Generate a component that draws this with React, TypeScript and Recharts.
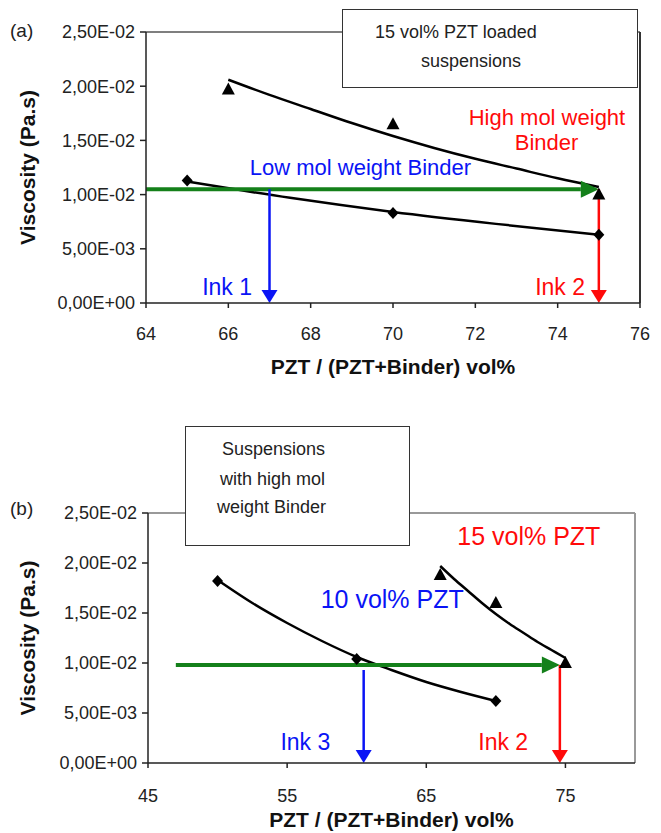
import { ComposedChart, Line, Scatter, XAxis, YAxis, ReferenceLine, ReferenceDot } from 'recharts';

// (a) 15 vol% PZT, binder molecular weight
const aTicksX = [64, 66, 68, 70, 72, 74, 76];
const aHighX = [66, 70, 75];
const aHighY = [0.0197, 0.0165, 0.01];
const aLowX = [65, 70, 75];
const aLowY = [0.0113, 0.0083, 0.0063];
const aHighFitX = [66, 67, 68, 69, 70, 71, 72, 73, 74, 75];
const aHighFitY = [0.0206, 0.0192, 0.0179, 0.0166, 0.0154, 0.0143, 0.0133, 0.0124, 0.0115, 0.0107];
const aLowFitX = [65, 67.5, 70, 72.5, 75];
const aLowFitY = [0.0112, 0.0097, 0.0084, 0.0073, 0.0063];

// (b) high mol weight binder, 10 / 15 vol% PZT
const bTicksX = [45, 55, 65, 75];
const b10X = [50, 60, 70];
const b10Y = [0.0182, 0.0104, 0.0062];
const b15X = [66, 70, 75];
const b15Y = [0.0188, 0.016, 0.01];
const b10FitX = [50, 52.5, 55, 57.5, 60, 62.5, 65, 67.5, 70];
const b10FitY = [0.0183, 0.016, 0.014, 0.0122, 0.0106, 0.0093, 0.0081, 0.0071, 0.0062];
const b15FitX = [66, 67, 68, 69, 70, 71, 72, 73, 74, 75];
const b15FitY = [0.0197, 0.0184, 0.0172, 0.016, 0.0149, 0.0139, 0.013, 0.0121, 0.0113, 0.0105];

const yTicks = [0, 0.005, 0.01, 0.015, 0.02, 0.025];

const pts = (xs: number[], ys: number[]) => xs.map((x, i) => ({ x, y: ys[i] }));

const FONT = '"Liberation Sans", Arial, sans-serif';
const GREEN = '#14801a';
const BLUE = '#0a14f5';
const RED = '#ff0a0a';

const fmtSci = (v: number) => {
  if (v === 0) return '0,00E+00';
  const [m, e] = v.toExponential(2).split('e');
  const n = parseInt(e, 10);
  return `${m.replace('.', ',')}E${n < 0 ? '-' : '+'}${String(Math.abs(n)).padStart(2, '0')}`;
};

const arrow = (color: string, w: number, headL: number, headW: number) => (p: any) => {
  const { x1, y1, x2, y2 } = p;
  const dx = x2 - x1;
  const dy = y2 - y1;
  const len = Math.hypot(dx, dy) || 1;
  const ux = dx / len;
  const uy = dy / len;
  const bx = x2 - ux * headL;
  const by = y2 - uy * headL;
  const px = -uy * headW / 2;
  const py = ux * headW / 2;
  return (
    <g>
      <line x1={x1} y1={y1} x2={bx} y2={by} stroke={color} strokeWidth={w} />
      <polygon points={`${x2},${y2} ${bx + px},${by + py} ${bx - px},${by - py}`} fill={color} />
    </g>
  );
};

const Tri = (p: any) => (
  <polygon points={`${p.cx},${p.cy - 7} ${p.cx + 6.5},${p.cy + 5} ${p.cx - 6.5},${p.cy + 5}`} fill="#000" />
);
const Dia = (p: any) => (
  <polygon points={`${p.cx},${p.cy - 6} ${p.cx + 5.5},${p.cy} ${p.cx},${p.cy + 6} ${p.cx - 5.5},${p.cy}`} fill="#000" />
);

const tickStyle = { fontSize: 18, fill: '#222', fontFamily: FONT };
const titleStyle = { fontSize: 21, fontWeight: 'bold', fill: '#111', fontFamily: FONT };

const txt = (value: string, color: string, size: number) => ({
  value, position: 'center' as const, fill: color, fontSize: size, fontFamily: FONT,
});

export default function App() {
  return (
    <div style={{ position: 'absolute', left: 0, top: 0, width: 661, height: 833, background: '#fff', fontFamily: FONT }}>
      {/* (a) */}
      <div style={{ position: 'absolute', left: 0, top: 0 }}>
        <ComposedChart width={661} height={410} margin={{ top: 32, right: 21, left: 0, bottom: 36 }}>
          <XAxis
            type="number" dataKey="x" domain={[64, 76]} ticks={aTicksX} allowDataOverflow
            tick={tickStyle} tickSize={5} tickMargin={19} height={71}
            axisLine={{ stroke: '#222', strokeWidth: 1.5 }} tickLine={{ stroke: '#222', strokeWidth: 1.5 }}
            label={{ value: 'PZT / (PZT+Binder) vol%', position: 'insideBottom', offset: 0, ...titleStyle }}
          />
          <YAxis
            type="number" domain={[0, 0.025]} ticks={yTicks} tickFormatter={fmtSci} width={146}
            tick={tickStyle} tickSize={6} tickMargin={5}
            axisLine={{ stroke: '#222', strokeWidth: 1.5 }} tickLine={{ stroke: '#222', strokeWidth: 1.5 }}
            label={{ value: 'Viscosity (Pa.s)', angle: -90, position: 'insideLeft', offset: 28, style: { textAnchor: 'middle' }, ...titleStyle }}
          />
          <ReferenceLine y={0.025} stroke="#555" strokeWidth={1.5} />
          <ReferenceLine x={76} stroke="#333" strokeWidth={2} />
          <Line data={pts(aHighFitX, aHighFitY)} dataKey="y" type="monotone" stroke="#000" strokeWidth={2.5} dot={false} isAnimationActive={false} />
          <Line data={pts(aLowFitX, aLowFitY)} dataKey="y" type="monotone" stroke="#000" strokeWidth={2.5} dot={false} isAnimationActive={false} />
          <Scatter data={pts(aHighX, aHighY)} dataKey="y" shape={Tri} isAnimationActive={false} />
          <Scatter data={pts(aLowX, aLowY)} dataKey="y" shape={Dia} isAnimationActive={false} />
          <ReferenceLine segment={[{ x: 64, y: 0.0105 }, { x: 75, y: 0.0105 }]} shape={arrow(GREEN, 4, 18, 17)} />
          <ReferenceLine segment={[{ x: 67, y: 0.0105 }, { x: 67, y: 0 }]} shape={arrow(BLUE, 2.5, 13, 16)} />
          <ReferenceLine segment={[{ x: 75, y: 0.0105 }, { x: 75, y: 0 }]} shape={arrow(RED, 2.5, 13, 16)} />
          <ReferenceDot x={69.21} y={0.01255} r={0} label={txt('Low mol weight Binder', BLUE, 22)} />
          <ReferenceDot x={73.74} y={0.01716} r={0} label={txt('High mol weight', RED, 22)} />
          <ReferenceDot x={73.73} y={0.01485} r={0} label={txt('Binder', RED, 22)} />
          <ReferenceDot x={65.97} y={0.00148} r={0} label={txt('Ink 1', BLUE, 23)} />
          <ReferenceDot x={74.06} y={0.00148} r={0} label={txt('Ink 2', RED, 23)} />
        </ComposedChart>
      </div>
      <div style={{ position: 'absolute', left: 10, top: 20, fontSize: 19, color: '#222' }}>(a)</div>
      <div style={{ position: 'absolute', left: 342, top: 9, width: 296, height: 79, boxSizing: 'border-box', border: '1.5px solid #333', background: '#fff', fontSize: 18, color: '#222' }}>
        <div style={{ position: 'absolute', left: 32, top: 12, whiteSpace: 'nowrap' }}>15 vol% PZT loaded</div>
        <div style={{ position: 'absolute', left: 78, top: 41, whiteSpace: 'nowrap' }}>suspensions</div>
      </div>

      {/* (b) */}
      <div style={{ position: 'absolute', left: 0, top: 420 }}>
        <ComposedChart width={661} height={413} margin={{ top: 93, right: 26, left: 0, bottom: 6 }}>
          <XAxis
            type="number" dataKey="x" domain={[45, 80]} ticks={bTicksX} allowDataOverflow
            tick={tickStyle} tickSize={5} tickMargin={21} height={64}
            axisLine={{ stroke: '#222', strokeWidth: 1.5 }} tickLine={{ stroke: '#222', strokeWidth: 1.5 }}
            label={{ value: 'PZT / (PZT+Binder) vol%', position: 'insideBottom', offset: 0, ...titleStyle }}
          />
          <YAxis
            type="number" domain={[0, 0.025]} ticks={yTicks} tickFormatter={fmtSci} width={148}
            tick={tickStyle} tickSize={6} tickMargin={5}
            axisLine={{ stroke: '#222', strokeWidth: 1.5 }} tickLine={{ stroke: '#222', strokeWidth: 1.5 }}
            label={{ value: 'Viscosity (Pa.s)', angle: -90, position: 'insideLeft', offset: 28, style: { textAnchor: 'middle' }, ...titleStyle }}
          />
          <ReferenceLine y={0.025} stroke="#777" strokeWidth={1.5} />
          <ReferenceLine x={80} stroke="#999" strokeWidth={2} />
          <Line data={pts(b10FitX, b10FitY)} dataKey="y" type="monotone" stroke="#000" strokeWidth={2.5} dot={false} isAnimationActive={false} />
          <Line data={pts(b15FitX, b15FitY)} dataKey="y" type="monotone" stroke="#000" strokeWidth={2.5} dot={false} isAnimationActive={false} />
          <Scatter data={pts(b15X, b15Y)} dataKey="y" shape={Tri} isAnimationActive={false} />
          <Scatter data={pts(b10X, b10Y)} dataKey="y" shape={Dia} isAnimationActive={false} />
          <ReferenceLine segment={[{ x: 47, y: 0.0098 }, { x: 74.6, y: 0.0098 }]} shape={arrow(GREEN, 4, 18, 17)} />
          <ReferenceLine segment={[{ x: 60.5, y: 0.0093 }, { x: 60.5, y: 0 }]} shape={arrow(BLUE, 2.5, 13, 16)} />
          <ReferenceLine segment={[{ x: 74.6, y: 0.0098 }, { x: 74.6, y: 0 }]} shape={arrow(RED, 2.5, 13, 16)} />
          <ReferenceDot x={72.37} y={0.0227} r={0} label={txt('15 vol% PZT', RED, 25)} />
          <ReferenceDot x={62.55} y={0.0164} r={0} label={txt('10 vol% PZT', BLUE, 25)} />
          <ReferenceDot x={56.31} y={0.0021} r={0} label={txt('Ink 3', BLUE, 23)} />
          <ReferenceDot x={70.53} y={0.0021} r={0} label={txt('Ink 2', RED, 23)} />
        </ComposedChart>
      </div>
      <div style={{ position: 'absolute', left: 10, top: 498, fontSize: 19, color: '#222' }}>(b)</div>
      <div style={{ position: 'absolute', left: 185, top: 426, width: 225, height: 120, boxSizing: 'border-box', border: '1.5px solid #333', background: '#fff', fontSize: 18, color: '#222' }}>
        <div style={{ position: 'absolute', left: 36, top: 12, whiteSpace: 'nowrap' }}>Suspensions</div>
        <div style={{ position: 'absolute', left: 34, top: 42, whiteSpace: 'nowrap' }}>with high mol</div>
        <div style={{ position: 'absolute', left: 31, top: 70, whiteSpace: 'nowrap' }}>weight Binder</div>
      </div>
    </div>
  );
}
